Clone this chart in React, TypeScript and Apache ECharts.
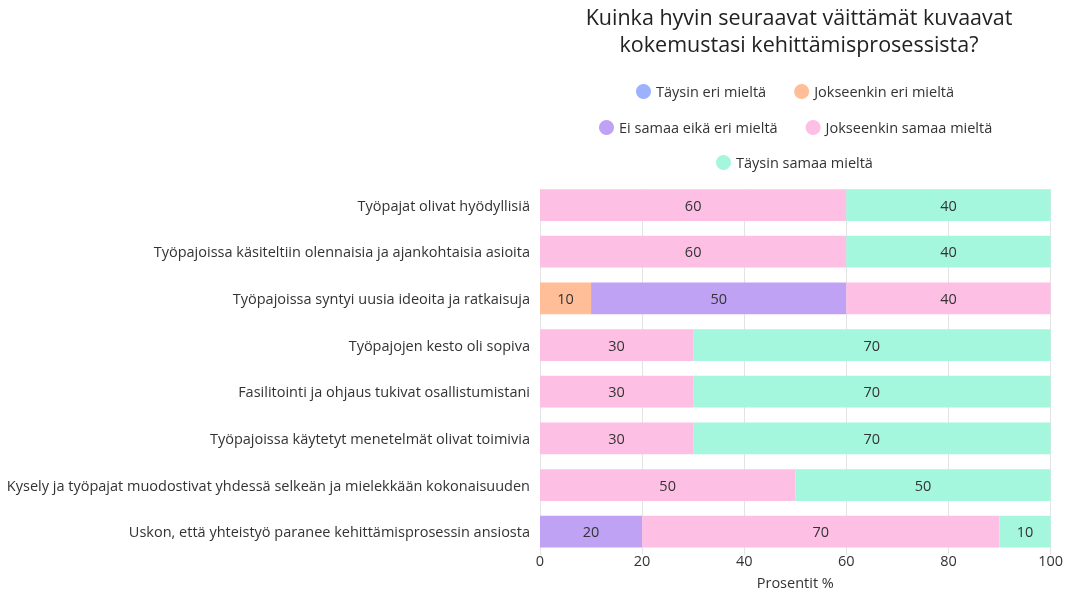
import React, { useEffect, useRef } from "react";
import * as echarts from "echarts";

const categories = [
  "Työpajat olivat hyödyllisiä",
  "Työpajoissa käsiteltiin olennaisia ja ajankohtaisia asioita",
  "Työpajoissa syntyi uusia ideoita ja ratkaisuja",
  "Työpajojen kesto oli sopiva",
  "Fasilitointi ja ohjaus tukivat osallistumistani",
  "Työpajoissa käytetyt menetelmät olivat toimivia",
  "Kysely ja työpajat muodostivat yhdessä selkeän ja mielekkään kokonaisuuden",
  "Uskon, että yhteistyö paranee kehittämisprosessin ansiosta",
];

const seriesNames = [
  "Täysin eri mieltä",
  "Jokseenkin eri mieltä",
  "Ei samaa eikä eri mieltä",
  "Jokseenkin samaa mieltä",
  "Täysin samaa mieltä",
];

const taysinEri = [0, 0, 0, 0, 0, 0, 0, 0];
const jokseenkinEri = [0, 0, 10, 0, 0, 0, 0, 0];
const eiSamaaEikaEri = [0, 0, 50, 0, 0, 0, 0, 20];
const jokseenkinSamaa = [60, 60, 40, 30, 30, 30, 50, 70];
const taysinSamaa = [40, 40, 0, 70, 70, 70, 50, 10];

const seriesData = [taysinEri, jokseenkinEri, eiSamaaEikaEri, jokseenkinSamaa, taysinSamaa];
const colors = ["#9db2ff", "#ffbe98", "#c0a2f5", "#fdc0e4", "#a4f7dc"];

const xTicks = [0, 20, 40, 60, 80, 100];

const FONT = "'Open Sans', 'Noto Sans', sans-serif";

const GRID_TOP = 181.75;
const GRID_H = 380;
const GRID_LEFT = 540;
const GRID_W = 513;

export default function App() {
  const ref = useRef<HTMLDivElement>(null);
  useEffect(() => {
    if (!ref.current) return;
    const chart = echarts.init(ref.current, undefined, { renderer: "svg" });
    const legendBase = {
      icon: "circle",
      itemWidth: 15,
      itemHeight: 15,
      itemGap: 28,
      textStyle: { fontFamily: FONT, fontSize: 14.5, color: "#333" },
      selectedMode: false,
    };
    const band = GRID_H / categories.length;
    const strip = (band * 0.32) / 2;
    const axisBase = {
      type: "value",
      min: 0,
      max: 100,
      interval: 20,
      axisLine: { show: false },
      axisTick: { show: false },
    };
    chart.setOption({
      animation: false,
      textStyle: { fontFamily: FONT },
      title: {
        text: "Kuinka hyvin seuraavat väittämät kuvaavat\nkokemustasi kehittämisprosessista?",
        left: 794,
        textAlign: "center",
        top: -2,
        textStyle: { fontFamily: FONT, fontSize: 21.5, fontWeight: "normal", color: "#222", lineHeight: 27 },
      },
      legend: [
        { ...legendBase, data: [seriesNames[0], seriesNames[1]], left: 631, top: 79 },
        { ...legendBase, data: [seriesNames[2], seriesNames[3]], left: 594, top: 115 },
        { ...legendBase, data: [seriesNames[4]], left: 711, top: 150 },
      ],
      grid: { left: GRID_LEFT, width: GRID_W, top: GRID_TOP, height: GRID_H, containLabel: false },
      graphic: [
        {
          type: "rect",
          z: 1,
          shape: { x: GRID_LEFT - 2, y: GRID_TOP - 1, width: GRID_W + 4, height: strip + 0.6 },
          style: { fill: "#fff" },
          silent: true,
        },
        {
          type: "rect",
          z: 1,
          shape: { x: GRID_LEFT - 2, y: GRID_TOP + GRID_H - strip + 0.4, width: GRID_W + 4, height: strip + 1 },
          style: { fill: "#fff" },
          silent: true,
        },
      ],
      xAxis: [
        {
          ...axisBase,
          z: 0,
          axisLabel: { show: false },
          splitLine: { show: true, lineStyle: { color: "#e3e3e3", width: 1 } },
        },
        {
          ...axisBase,
          z: 5,
          position: "bottom",
          name: "Prosentit %",
          nameLocation: "middle",
          nameGap: 20,
          nameTextStyle: { fontFamily: FONT, fontSize: 14.5, color: "#333" },
          axisLabel: {
            fontFamily: FONT,
            fontSize: 14.5,
            color: "#333",
            margin: -2,
            formatter: (v: number) => (xTicks.includes(v) ? String(v) : ""),
          },
          splitLine: { show: false },
        },
      ],
      yAxis: {
        type: "category",
        data: categories,
        inverse: true,
        axisLabel: { fontFamily: FONT, fontSize: 14.5, color: "#333", margin: 10 },
        axisLine: { show: false },
        axisTick: { show: false },
      },
      series: seriesNames.map((name, i) => ({
        name,
        type: "bar",
        stack: "total",
        xAxisIndex: 0,
        barWidth: "68%",
        itemStyle: { color: colors[i] },
        label: {
          show: true,
          position: "inside",
          fontFamily: FONT,
          fontSize: 14.5,
          color: "#333",
          formatter: (p: any) => (p.value ? String(p.value) : ""),
        },
        data: seriesData[i],
      })),
    });
    return () => chart.dispose();
  }, []);
  return <div ref={ref} style={{ position: "fixed", left: 0, top: 0, width: 1066, height: 595 }} />;
}
